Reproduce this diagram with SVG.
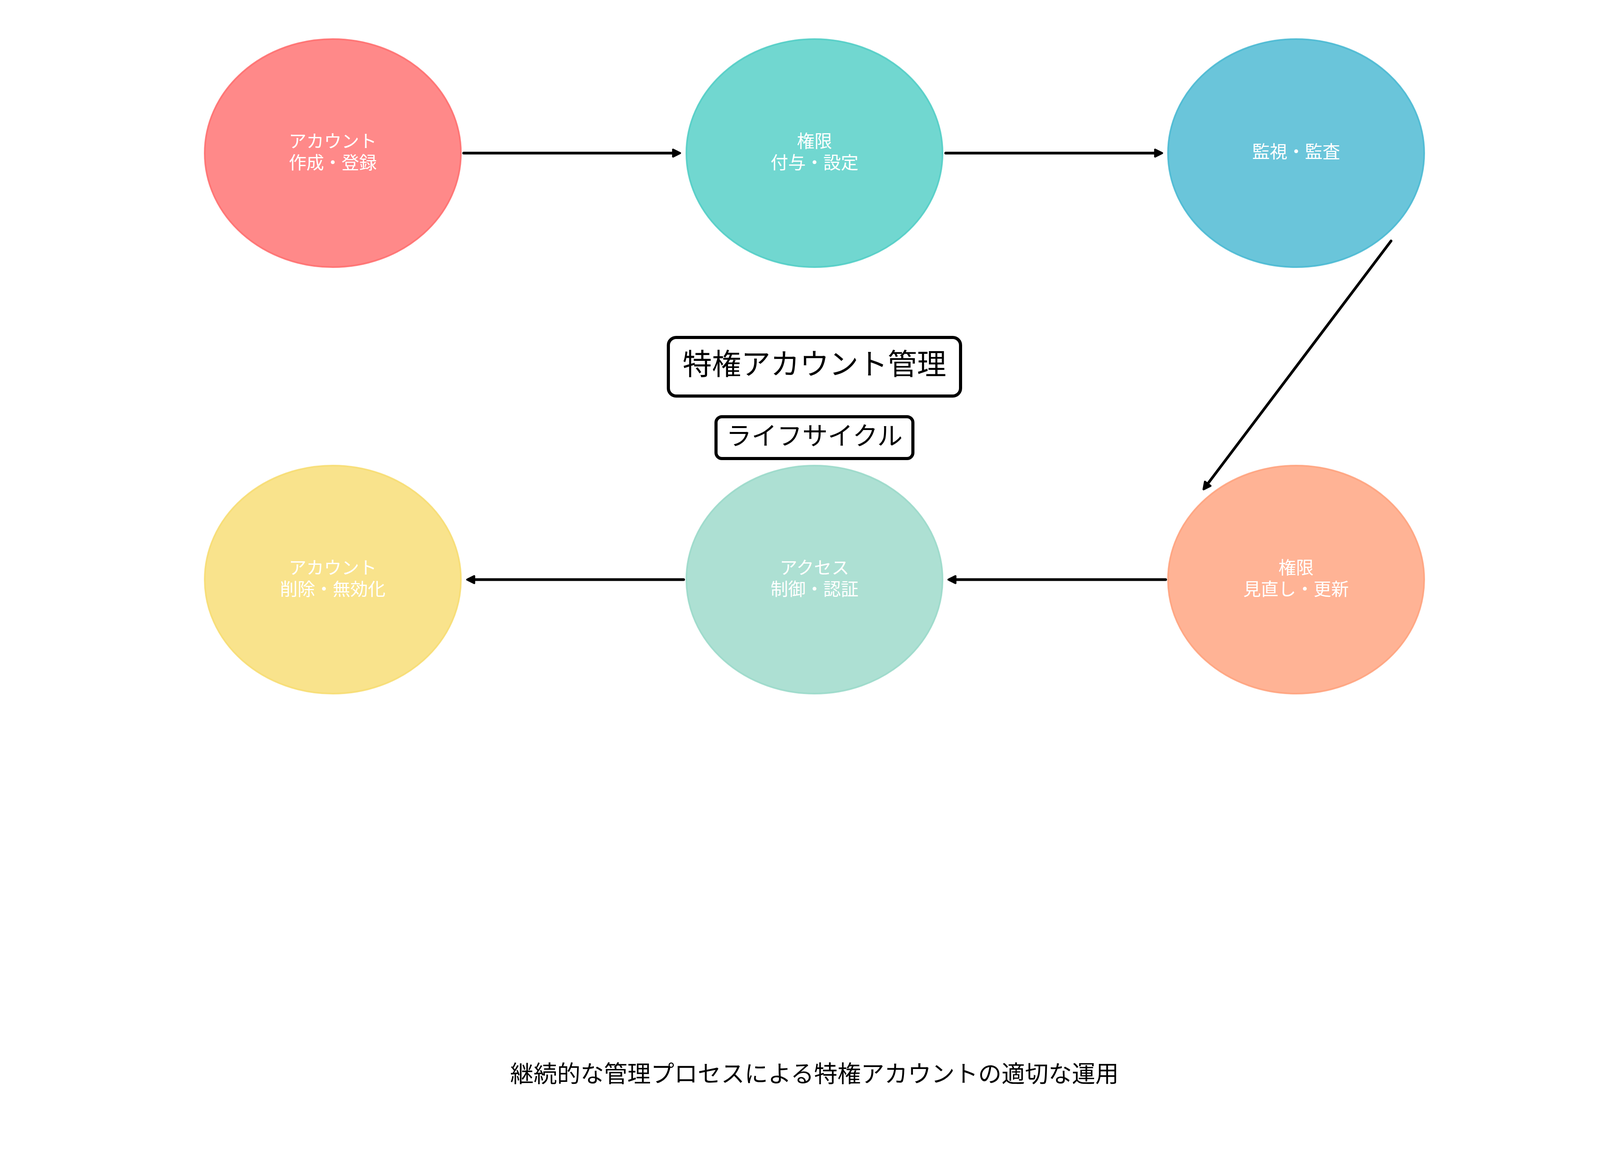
<svg xmlns="http://www.w3.org/2000/svg" width="4170" height="2970" viewBox="0 0 4170 2970">
<style>
.node ellipse{stroke-width:4}
.lbl{font-family:"Noto Sans CJK JP","Noto Sans",sans-serif;font-size:45px;fill:#ffffff;text-anchor:middle}
.title{font-family:"Noto Sans CJK JP","Noto Sans",sans-serif;fill:#000000;text-anchor:middle}
.box{fill:#ffffff;stroke:#000000;stroke-width:8}
.edge{fill:none;stroke:#000000;stroke-width:7;stroke-linecap:round}
</style>
<defs>
<marker id="ah" markerUnits="userSpaceOnUse" markerWidth="60" markerHeight="60" viewBox="-30 -30 60 60" refX="-12" refY="0" orient="auto">
<path d="M-20,-9 L-2,0 L-20,9 Z" fill="#000000" stroke="#000000" stroke-width="5" stroke-linejoin="round"/>
</marker>
</defs>
<rect x="0" y="0" width="4170" height="2970" fill="#ffffff"/>
<g id="connectors">
<path class="edge" d="M1187,392 L1731,392" marker-end="url(#ah)"/>
<path class="edge" d="M2421,392 L2965,392" marker-end="url(#ah)"/>
<path class="edge" d="M3561,617 L3087,1245" marker-end="url(#ah)"/>
<path class="edge" d="M2984,1484 L2438,1484" marker-end="url(#ah)"/>
<path class="edge" d="M1750,1484 L1206,1484" marker-end="url(#ah)"/>
</g>
<g id="node1" class="node">
<ellipse cx="852" cy="392" rx="328" ry="292" fill="#FF6B6B" fill-opacity="0.8" stroke="#FF6B6B" stroke-opacity="0.85"/>
<text class="lbl"><tspan x="852" y="378">アカウント</tspan><tspan x="852" y="433">作成・登録</tspan></text>
</g>
<g id="node2" class="node">
<ellipse cx="2085" cy="392" rx="328" ry="292" fill="#4ECDC4" fill-opacity="0.8" stroke="#4ECDC4" stroke-opacity="0.85"/>
<text class="lbl"><tspan x="2085" y="378">権限</tspan><tspan x="2085" y="433">付与・設定</tspan></text>
</g>
<g id="node3" class="node">
<ellipse cx="3318" cy="392" rx="328" ry="292" fill="#45B7D1" fill-opacity="0.8" stroke="#45B7D1" stroke-opacity="0.85"/>
<text class="lbl" x="3318" y="405">監視・監査</text>
</g>
<g id="node4" class="node">
<ellipse cx="3318" cy="1484" rx="328" ry="292" fill="#FFA07A" fill-opacity="0.8" stroke="#FFA07A" stroke-opacity="0.85"/>
<text class="lbl"><tspan x="3318" y="1470">権限</tspan><tspan x="3318" y="1525">見直し・更新</tspan></text>
</g>
<g id="node5" class="node">
<ellipse cx="2085" cy="1484" rx="328" ry="292" fill="#98D8C8" fill-opacity="0.8" stroke="#98D8C8" stroke-opacity="0.85"/>
<text class="lbl"><tspan x="2085" y="1470">アクセス</tspan><tspan x="2085" y="1525">制御・認証</tspan></text>
</g>
<g id="node6" class="node">
<ellipse cx="852" cy="1484" rx="328" ry="292" fill="#F7DC6F" fill-opacity="0.8" stroke="#F7DC6F" stroke-opacity="0.85"/>
<text class="lbl"><tspan x="852" y="1470">アカウント</tspan><tspan x="852" y="1525">削除・無効化</tspan></text>
</g>
<g id="title">
<rect class="box" x="1711" y="864" width="748" height="150" rx="20" ry="20"/>
<text class="title" x="2085" y="959" font-size="75">特権アカウント管理</text>
</g>
<g id="subtitle">
<rect class="box" x="1833" y="1067" width="504" height="107" rx="15" ry="15"/>
<text class="title" x="2085" y="1139" font-size="65">ライフサイクル</text>
</g>
<g id="footer">
<text class="title" x="2085" y="2771" font-size="60">継続的な管理プロセスによる特権アカウントの適切な運用</text>
</g>
</svg>
